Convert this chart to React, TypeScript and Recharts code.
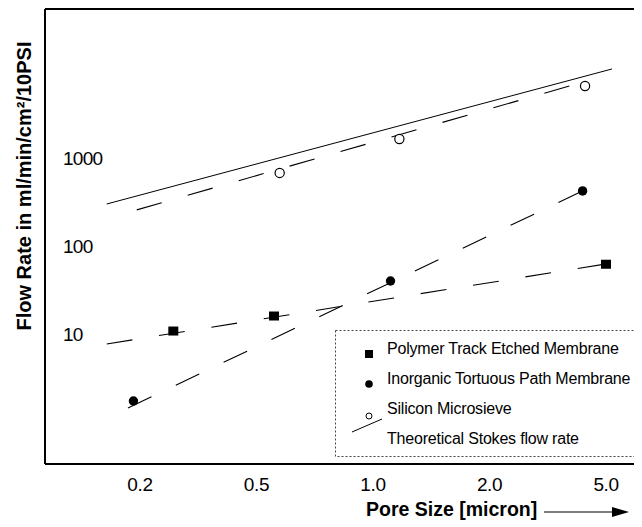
import { ComposedChart, Legend, Line, Scatter, XAxis, YAxis, Label, ReferenceLine } from "recharts"

// pore sizes (micron) on an evenly spaced tick axis, flow in ml/min/cm2/10PSI
const poreTicks = [0.2, 0.5, 1.0, 2.0, 5.0]
const poreTickLabels = ["0.2", "0.5", "1.0", "2.0", "5.0"]
const flowTicks = [10, 100, 1000]
const flowDomain = [0.333, 49300]

const polymerPore = [0.26, 0.555, 5.0]
const polymerFlow = [10.8, 16, 62]
const inorganicPore = [0.19, 1.11, 4.16]
const inorganicFlow = [1.73, 40, 422]
const siliconPore = [0.574, 1.17, 4.24]
const siliconFlow = [676, 1644, 6580]

const stokesPore = [0.154, 5.24]
const stokesFlow = [300, 10260]
const polymerFitPore = [0.154, 5.24]
const polymerFitFlow = [7.7, 64]
const inorganicFitPore = [0.182, 4.16]
const inorganicFitFlow = [1.44, 422]
const siliconFitPore = [0.195, 3.86]
const siliconFitFlow = [257, 6760]

const legendNames = [
  "Polymer Track Etched Membrane",
  "Inorganic Tortuous Path Membrane",
  "Silicon Microsieve",
  "Theoretical Stokes flow rate",
]

const FONT = "'Liberation Sans', Arial, Helvetica, sans-serif"

// the paper's x axis puts its labels at equal spacing, so map a pore size
// onto tick-index units (log interpolation inside each tick interval)
function toAxis(size: number) {
  let i = 0
  while (i < poreTicks.length - 2 && size > poreTicks[i + 1]) i++
  return i + Math.log(size / poreTicks[i]) / Math.log(poreTicks[i + 1] / poreTicks[i])
}

const rows = (pore: number[], flow: number[]) => pore.map((p, i) => ({ x: toAxis(p), flow: flow[i] }))

const polymer = rows(polymerPore, polymerFlow)
const inorganic = rows(inorganicPore, inorganicFlow)
const silicon = rows(siliconPore, siliconFlow)
const stokes = rows(stokesPore, stokesFlow)
const polymerFit = rows(polymerFitPore, polymerFitFlow)
const inorganicFit = rows(inorganicFitPore, inorganicFitFlow)
const siliconFit = rows(siliconFitPore, siliconFitFlow)

const Square = (p: any) => <rect x={p.cx - 5} y={p.cy - 4.5} width={10} height={9} fill="#000" />
const Dot = (p: any) => <circle cx={p.cx} cy={p.cy} r={4.7} fill="#000" />
const OpenDot = (p: any) => <circle cx={p.cx} cy={p.cy} r={4.6} fill="#fff" stroke="#000" strokeWidth={1.2} />

const YTick = (p: any) => (
  <text x={p.x + 18} y={p.y} dy="0.36em" textAnchor="start" fontSize={19} fontFamily={FONT} fill="#000" letterSpacing={-0.7}>
    {p.payload.value}
  </text>
)

const XTick = (p: any) => (
  <text x={p.x} y={p.y + 20} dy="0.36em" textAnchor="middle" fontSize={19} fontFamily={FONT} fill="#000" letterSpacing={-0.4}>
    {poreTickLabels[p.payload.value]}
  </text>
)

const XTitle = (p: any) => {
  const { x, y } = p.viewBox
  return (
    <g>
      <text x={x + 321} y={y + 45} dy="0.36em" fontSize={19.5} fontWeight="bold" fontFamily={FONT} fill="#000">
        Pore Size [micron]
      </text>
      <line x1={x + 499} y1={y + 48} x2={x + 575} y2={y + 48} stroke="#000" strokeWidth={1.2} />
      <path d={`M ${x + 584} ${y + 48} L ${x + 567} ${y + 43} L ${x + 567} ${y + 53} Z`} fill="#000" />
    </g>
  )
}

const YTitle = (p: any) => {
  const { x, y } = p.viewBox
  const cx = x + 16
  const cy = y + 177
  return (
    <text x={cx} y={cy} dy="0.36em" textAnchor="middle" transform={`rotate(-90 ${cx} ${cy})`} fontSize={20} fontWeight="bold" fontFamily={FONT} fill="#000">
      Flow Rate in ml/min/cm²/10PSI
    </text>
  )
}

const LegendBox = () => (
  <svg width={302} height={127} style={{ display: "block" }}>
    <rect x={0.5} y={0.5} width={301} height={126} fill="#fff" stroke="#444" strokeWidth={1} strokeDasharray="2 2" />
    <rect x={30} y={20} width={8} height={8} fill="#000" />
    <circle cx={34} cy={54} r={3.8} fill="#000" />
    <circle cx={34} cy={86} r={3} fill="#fff" stroke="#000" strokeWidth={1} />
    <line x1={17} y1={102} x2={47} y2={89} stroke="#000" strokeWidth={1} />
    {legendNames.map((name, i) => (
      <text key={name} x={52} y={18 + i * 30} dy="0.36em" fontSize={16} fontFamily={FONT} fill="#000" letterSpacing={-0.2}>
        {name}
      </text>
    ))}
  </svg>
)

export default function App() {
  return (
    <ComposedChart width={634} height={519} margin={{ top: 1, right: 0, bottom: 0, left: 0 }}>
      <XAxis
        type="number"
        dataKey="x"
        domain={[-0.815, 4.309]}
        ticks={[0, 1, 2, 3, 4]}
        allowDataOverflow
        height={63}
        tickSize={0}
        tickMargin={0}
        tick={<XTick />}
        axisLine={{ stroke: "#000", strokeWidth: 2 }}
      >
        <Label content={<XTitle />} />
      </XAxis>
      <YAxis
        type="number"
        dataKey="flow"
        scale="log"
        domain={flowDomain}
        ticks={flowTicks}
        allowDataOverflow
        width={37}
        tickSize={0}
        tickMargin={0}
        tick={<YTick />}
        axisLine={{ stroke: "#000", strokeWidth: 2 }}
      >
        <Label content={<YTitle />} />
      </YAxis>
      <ReferenceLine y={flowDomain[1]} stroke="#000" strokeWidth={2} ifOverflow="visible" />
      <Legend
        layout="vertical"
        align="center"
        verticalAlign="middle"
        wrapperStyle={{ left: 327, top: 322, width: 302, height: 127 }}
        content={() => <LegendBox />}
      />
      <Line data={stokes} dataKey="flow" stroke="#000" strokeWidth={1} dot={false} isAnimationActive={false} legendType="none" />
      <Line data={siliconFit} dataKey="flow" stroke="#000" strokeWidth={1.1} strokeDasharray="26 27" dot={false} isAnimationActive={false} legendType="none" />
      <Line data={polymerFit} dataKey="flow" stroke="#000" strokeWidth={1.1} strokeDasharray="26 27" dot={false} isAnimationActive={false} legendType="none" />
      <Line data={inorganicFit} dataKey="flow" stroke="#000" strokeWidth={1.1} strokeDasharray="26 27" dot={false} isAnimationActive={false} legendType="none" />
      <Scatter name={legendNames[0]} data={polymer} dataKey="flow" shape={<Square />} isAnimationActive={false} />
      <Scatter name={legendNames[1]} data={inorganic} dataKey="flow" shape={<Dot />} isAnimationActive={false} />
      <Scatter name={legendNames[2]} data={silicon} dataKey="flow" shape={<OpenDot />} isAnimationActive={false} />
    </ComposedChart>
  )
}
